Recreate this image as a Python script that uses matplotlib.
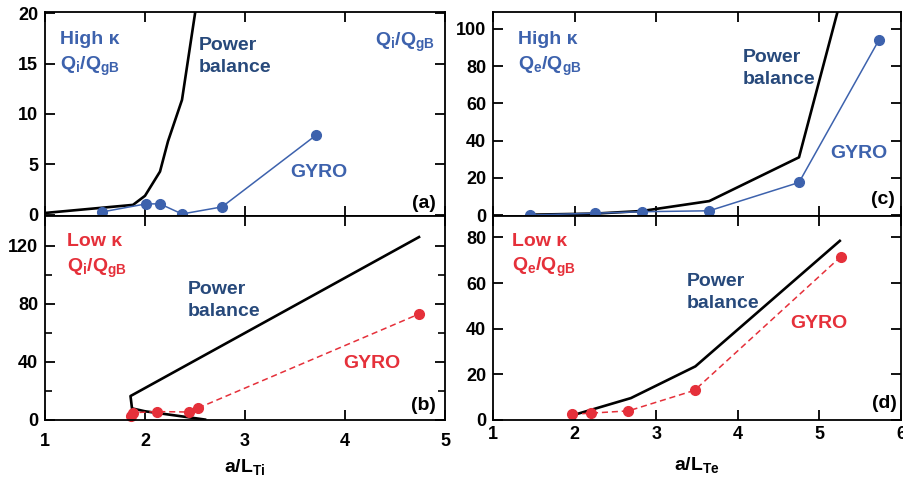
import matplotlib
matplotlib.use("Agg")
import matplotlib.pyplot as plt
from matplotlib import font_manager

names = {f.name for f in font_manager.fontManager.ttflist}
FONT = "Liberation Sans" if "Liberation Sans" in names else "DejaVu Sans"
plt.rcParams["font.family"] = [FONT, "DejaVu Sans"]
plt.rcParams["font.weight"] = "bold"
plt.rcParams["mathtext.fontset"] = "custom"
plt.rcParams["mathtext.bf"] = FONT + ":bold"
plt.rcParams["mathtext.rm"] = FONT + ":bold"
plt.rcParams["mathtext.it"] = FONT + ":bold"
plt.rcParams["mathtext.default"] = "bf"

# ---------------- data ----------------
# (a) high kappa, ion
pb_a_x = [1.0, 1.88, 2.0, 2.15, 2.23, 2.37, 2.6]
pb_a_y = [0.2, 1.0, 1.9, 4.3, 7.3, 11.4, 26.5]
gy_a_x = [1.57, 2.01, 2.15, 2.37, 2.77, 3.71]
gy_a_y = [0.3, 1.1, 1.1, 0.1, 0.8, 7.9]
# (b) low kappa, ion
pb_b_x = [4.74, 1.855, 1.87, 2.0, 2.6]
pb_b_y = [126.0, 16.5, 8.0, 6.0, 0.3]
gy_b_x = [1.86, 1.88, 2.12, 2.44, 2.53, 4.74]
gy_b_y = [3.0, 5.0, 5.8, 5.5, 8.2, 73.0]
# (c) high kappa, electron
pb_c_x = [1.45, 2.25, 2.83, 3.65, 4.75, 5.3]
pb_c_y = [0.2, 0.8, 2.2, 7.5, 31.0, 122.0]
gy_c_x = [1.45, 2.25, 2.83, 3.65, 4.75, 5.73]
gy_c_y = [0.0, 1.0, 1.8, 2.3, 17.5, 94.0]
# (d) low kappa, electron
pb_d_x = [1.97, 2.69, 3.48, 5.25]
pb_d_y = [2.0, 9.6, 23.5, 78.5]
gy_d_x = [1.97, 2.2, 2.66, 3.47, 5.26]
gy_d_y = [2.5, 3.0, 4.0, 13.0, 71.5]

yt_a = [0, 5, 10, 15, 20]
yt_b = [0, 40, 80, 120]
yt_c = [0, 20, 40, 60, 80, 100]
yt_d = [0, 20, 40, 60, 80]
xt_left = [1, 2, 3, 4, 5]
xt_right = [1, 2, 3, 4, 5, 6]

BLUE = "#3d62ad"
NAVY = "#27497b"
RED = "#e5303a"

W, H = 904, 482
fig = plt.figure(figsize=(W / 100, H / 100), dpi=100)


def px_axes(x0, y0, x1, y1):
    return fig.add_axes([x0 / W, 1 - y1 / H, (x1 - x0) / W, (y1 - y0) / H])


def ftext(x, y, s, color, size=14, ha="left", va="center"):
    fig.text(x / W, 1 - y / H, s, color=color, fontsize=size, ha=ha, va=va,
             fontweight="bold")


ax_a = px_axes(45, 12, 445, 216)
ax_b = px_axes(45, 216, 445, 420)
ax_c = px_axes(493, 12, 901, 216)
ax_d = px_axes(493, 216, 901, 420)

for ax in (ax_a, ax_b, ax_c, ax_d):
    for s in ax.spines.values():
        s.set_linewidth(1.3)
    ax.tick_params(direction="in", length=7, width=1.3, top=True, right=True,
                   labelsize=13)
    for lab in ax.get_xticklabels() + ax.get_yticklabels():
        lab.set_fontweight("bold")

# panel a
ax_a.plot(pb_a_x, pb_a_y, color="black", lw=1.9)
ax_a.plot(gy_a_x, gy_a_y, color=BLUE, lw=1.1, marker="o", ms=7, clip_on=False)
ax_a.set_xlim(1, 5)
ax_a.set_ylim(-0.1, 20.1)
ax_a.set_xticks(xt_left)
ax_a.set_yticks(yt_a)
ax_a.tick_params(labelbottom=False, pad=5)

# panel b
ax_b.plot(pb_b_x, pb_b_y, color="black", lw=1.9)
ax_b.plot(gy_b_x, gy_b_y, color=RED, lw=1.1, ls=(0, (4, 2.5)), marker="o", ms=7,
          clip_on=False)
ax_b.set_xlim(1, 5)
ax_b.set_ylim(0, 140.5)
ax_b.set_xticks(xt_left)
ax_b.set_yticks(yt_b)
ax_b.set_yticks([20, 60, 100], minor=True)
ax_b.tick_params(which="minor", direction="in", length=5, width=1.2, right=True)
ax_b.tick_params(axis="x", pad=9)
ax_b.tick_params(axis="y", pad=5)

# panel c
ax_c.plot(pb_c_x, pb_c_y, color="black", lw=1.9)
ax_c.plot(gy_c_x, gy_c_y, color=BLUE, lw=1.1, marker="o", ms=7, clip_on=False)
ax_c.set_xlim(1, 6)
ax_c.set_ylim(-0.5, 109)
ax_c.set_xticks(xt_right)
ax_c.set_yticks(yt_c)
ax_c.tick_params(labelbottom=False, pad=5)

# panel d
ax_d.plot(pb_d_x, pb_d_y, color="black", lw=1.9)
ax_d.plot(gy_d_x, gy_d_y, color=RED, lw=1.1, ls=(0, (4, 2.5)), marker="o", ms=7,
          clip_on=False)
ax_d.set_xlim(1, 6)
ax_d.set_ylim(0, 89.4)
ax_d.set_xticks(xt_right)
ax_d.set_yticks(yt_d)
ax_d.tick_params(axis="x", pad=4)
ax_d.tick_params(axis="y", pad=5)

# annotations (figure pixel coords)
ftext(60, 40, "High κ", BLUE)
ftext(60, 66, r"Q$_i$/Q$_{gB}$", BLUE)
ftext(199, 45, "Power", NAVY)
ftext(199, 67, "balance", NAVY)
ftext(375, 42, r"Q$_i$/Q$_{gB}$", BLUE)
ftext(290, 172, "GYRO", BLUE)
ftext(436, 203, "(a)", "black", ha="right")

ftext(67, 242, "Low κ", RED)
ftext(67, 268, r"Q$_i$/Q$_{gB}$", RED)
ftext(188, 289, "Power", NAVY)
ftext(188, 311, "balance", NAVY)
ftext(343, 364, "GYRO", RED)
ftext(436, 405, "(b)", "black", ha="right")

ftext(518, 40, "High κ", BLUE)
ftext(518, 66, r"Q$_e$/Q$_{gB}$", BLUE)
ftext(743, 57, "Power", NAVY)
ftext(743, 79, "balance", NAVY)
ftext(830, 153, "GYRO", BLUE)
ftext(895, 199, "(c)", "black", ha="right")

ftext(512, 242, "Low κ", RED)
ftext(512, 267, r"Q$_e$/Q$_{gB}$", RED)
ftext(687, 282, "Power", NAVY)
ftext(687, 304, "balance", NAVY)
ftext(790, 323, "GYRO", RED)
ftext(897, 403, "(d)", "black", ha="right")

ftext(245, 467, r"a/L$_{Ti}$", "black", ha="center")
ftext(697, 465, r"a/L$_{Te}$", "black", ha="center")

fig.savefig("out.png", dpi=100)
